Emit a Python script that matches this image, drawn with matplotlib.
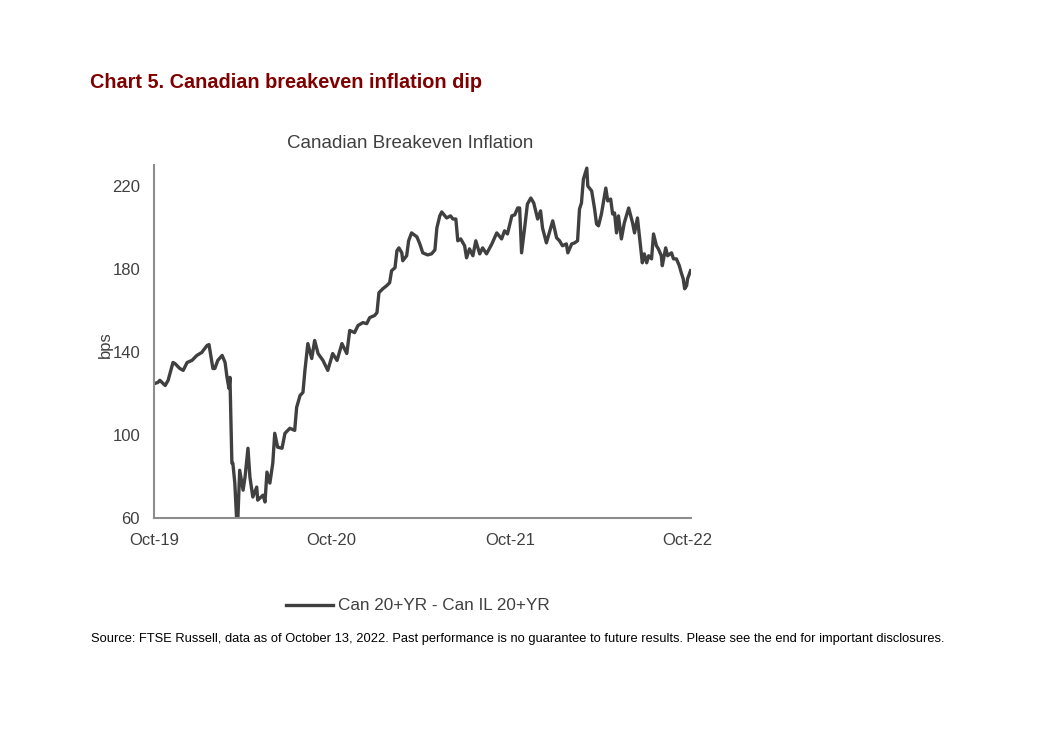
import matplotlib
matplotlib.use("Agg")
import matplotlib.pyplot as plt
from matplotlib.lines import Line2D

# ---- data ----
# x: days since 2019-10-14 ; y: breakeven in bps
days = [2, 8, 12, 23, 29, 39, 43, 53, 60, 68, 78, 88, 98, 109, 113, 121, 125, 131, 140, 146,
        150, 154, 156, 160, 162, 166, 170, 172, 176, 183, 187, 193, 197, 203, 211, 213, 224, 228,
        232, 238, 244, 248, 254, 263, 269, 279, 289, 293, 300, 306, 310, 316, 324, 330, 337, 347,
        357, 367, 376, 386, 396, 402, 412, 419, 429, 437, 443, 453, 458, 462, 470, 478, 484, 488,
        495, 499, 503, 509, 511, 519, 523, 529, 540, 546, 552, 562, 570, 577, 581, 587, 591, 601,
        609, 614, 620, 624, 630, 638, 642, 648, 655, 661, 669, 675, 683, 694, 704, 714, 720, 726,
        735, 741, 747, 751, 755, 761, 767, 774, 780, 788, 794, 798, 806, 813, 819, 827, 833, 839,
        847, 850, 858, 864, 870, 874, 878, 882, 889, 891, 899, 905, 909, 913, 919, 928, 932, 938,
        942, 946, 950, 954, 960, 966, 975, 983, 987, 993, 997, 1003, 1007, 1012, 1016, 1022, 1026,
        1032, 1036, 1042, 1044, 1051, 1055, 1063, 1067, 1073, 1079, 1083, 1087, 1090, 1094, 1096,
        1102]
bps = [124.8, 125.3, 126.3, 123.8, 126.3, 134.9, 134.4, 132.0, 131.1, 134.9, 135.9, 138.3, 139.7,
       143.1, 143.5, 132.0, 132.0, 135.9, 138.3, 134.9, 127.7, 122.4, 127.7, 86.4, 86.4, 76.8,
       58.0, 58.0, 83.0, 73.4, 79.7, 93.6, 79.7, 70.1, 74.9, 68.6, 71.0, 67.7, 82.1, 76.8, 86.4,
       100.8, 94.1, 93.6, 100.8, 103.2, 102.2, 113.3, 119.0, 120.5, 131.1, 144.0, 136.8, 145.5,
       139.2, 135.9, 131.1, 139.2, 135.9, 144.0, 139.2, 150.3, 149.3, 152.7, 154.1, 153.6, 156.5,
       157.5, 158.9, 168.5, 170.4, 171.9, 173.3, 179.1, 180.5, 188.7, 190.1, 187.7, 183.9, 186.3,
       193.5, 197.3, 195.4, 192.0, 187.7, 186.7, 187.2, 189.1, 199.7, 205.5, 207.4, 204.5, 205.5,
       204.0, 204.0, 193.5, 194.4, 191.1, 185.3, 189.6, 186.3, 193.5, 187.2, 190.1, 187.2, 192.0,
       197.3, 194.4, 198.3, 196.8, 205.5, 206.0, 209.3, 209.3, 187.7, 199.2, 211.2, 214.1, 211.7,
       204.0, 207.9, 199.7, 192.5, 198.3, 203.1, 194.9, 193.5, 191.1, 192.0, 187.7, 192.0, 192.5,
       193.5, 208.8, 211.7, 223.2, 228.5, 219.9, 217.5, 208.8, 201.6, 200.7, 206.4, 218.9, 212.7,
       213.6, 206.4, 206.9, 197.3, 205.5, 194.4, 202.1, 209.3, 202.1, 197.3, 204.5, 195.9, 182.9,
       187.2, 182.9, 186.3, 184.8, 196.8, 191.1, 189.6, 186.3, 181.5, 190.1, 186.3, 187.7, 184.8,
       184.8, 181.5, 178.1, 175.2, 170.4, 171.9, 175.2, 179.1]
tick_days = [0, 365, 731, 1096]
tick_labels = ["Oct-19", "Oct-20", "Oct-21", "Oct-22"]
y_ticks = [60, 100, 140, 180, 220]
series_name = "Can 20+YR - Can IL 20+YR"

plt.rcParams['font.family'] = ['Liberation Sans', 'DejaVu Sans']

fig = plt.figure(figsize=(10.61, 7.41), dpi=100)
ax = fig.add_axes([154/1061, 223/741, 537/1061, 353/741])

line_color = "#404040"
ax.plot(days, bps, color=line_color, lw=2.4, solid_joinstyle='round', clip_on=True)

ax.set_xlim(0, 1103)
ax.set_ylim(60, 230)
ax.set_xticks(tick_days)
ax.set_xticklabels(tick_labels)
ax.set_yticks(y_ticks)
ax.tick_params(axis='both', length=0, labelsize=12, labelcolor="#404040")
ax.tick_params(axis='x', pad=11)
ax.tick_params(axis='y', pad=10)

for s in ["top", "right"]:
    ax.spines[s].set_visible(False)
for s in ["left", "bottom"]:
    ax.spines[s].set_color("#8c8c8c")
    ax.spines[s].set_linewidth(1.5)

ax.set_ylabel("bps", fontsize=12, color="#404040")
ax.yaxis.set_label_coords(-0.076, 0.49)

fig.text(410/1061, 1 - 144/741, "Canadian Breakeven Inflation", ha='center', va='center',
         fontsize=13.5, color="#404040")

fig.text(90/1061, 1 - 83/741, "Chart 5. Canadian breakeven inflation dip", ha='left', va='center',
         fontsize=14.35, fontweight='bold', color="#800000")

handle = Line2D([], [], color=line_color, lw=2.4)
fig.legend([handle], [series_name], loc='center', bbox_to_anchor=(418/1061, 1 - 606/741),
           frameon=False, fontsize=12.3, handlelength=2.75, handletextpad=0.3,
           labelcolor="#404040")

fig.text(91/1061, 1 - 639/741,
         "Source: FTSE Russell, data as of October 13, 2022. Past performance is no guarantee to future results. Please see the end for important disclosures.",
         ha='left', va='center', fontsize=9.3, color="black")

fig.savefig("out.png", dpi=100)
